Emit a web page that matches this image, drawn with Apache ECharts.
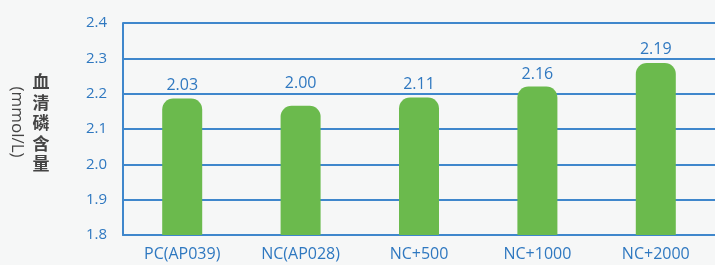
<!DOCTYPE html>
<html>
<head>
<meta charset="utf-8">
<script src="https://cdn.jsdelivr.net/npm/echarts@6/dist/echarts.min.js"></script>
<style>
html, body { margin: 0; padding: 0; background: #f6f7f7; }
#main { width: 715px; height: 265px; }
</style>
</head>
<body>
<div id="main"></div>
<script>
// groups on the x axis
var categories = ['PC(AP039)', 'NC(AP028)', 'NC+500', 'NC+1000', 'NC+2000'];
// bar heights as drawn in the picture
var barValues = [2.186, 2.166, 2.189, 2.22, 2.287];
// numbers printed above the bars
var labelTexts = ['2.03', '2.00', '2.11', '2.16', '2.19'];
var yTicks = [1.8, 1.9, 2.0, 2.1, 2.2, 2.3, 2.4];

var blue = '#3f87cc';
// gap between bar top and its number (the second one sits higher)
var labelGap = [5, 14, 5, 4, 5];

var dom = document.getElementById('main');
var myChart = echarts.init(dom);

var barData = barValues.map(function (v, i) {
    return { value: v, label: { distance: labelGap[i] } };
});

var option = {
    backgroundColor: '#f6f7f7',
    textStyle: { fontFamily: 'Open Sans' },
    grid: { left: 123, right: -11, top: 23, bottom: 30 },
    xAxis: {
        type: 'category',
        data: categories,
        axisLine: { lineStyle: { color: blue, width: 2 } },
        axisTick: { show: false },
        axisLabel: { color: '#2f78c0', fontSize: 16, margin: 11 }
    },
    yAxis: {
        type: 'value',
        min: yTicks[0],
        max: yTicks[yTicks.length - 1],
        interval: 0.1,
        axisLine: { show: true, lineStyle: { color: blue, width: 2 } },
        axisTick: { show: false },
        splitLine: { lineStyle: { color: blue, width: 2 } },
        axisLabel: {
            color: '#2f78c0', fontSize: 15, margin: 16,
            formatter: function (v) { return v.toFixed(1); }
        }
    },
    graphic: [
        {
            type: 'text',
            x: 41, y: 123,
            style: {
                text: '血\n清\n磷\n含\n量',
                fill: '#444',
                font: 'bold 17px "Noto Sans CJK SC"',
                lineHeight: 20.5,
                align: 'center',
                verticalAlign: 'middle'
            }
        },
        {
            type: 'text',
            x: 17, y: 122,
            rotation: -Math.PI / 2,
            style: {
                text: '(mmol/L)',
                fill: '#444',
                font: '17px "Open Sans"',
                align: 'center',
                verticalAlign: 'middle'
            }
        }
    ],
    series: [{
        type: 'bar',
        barWidth: 40,
        data: barData,
        itemStyle: { color: '#6bba4d', borderRadius: [11, 11, 0, 0] },
        label: {
            show: true,
            position: 'top',
            color: '#2f78c0',
            fontSize: 16,
            formatter: function (p) { return labelTexts[p.dataIndex]; }
        }
    }]
};

myChart.setOption(option, true);
</script>
</body>
</html>
